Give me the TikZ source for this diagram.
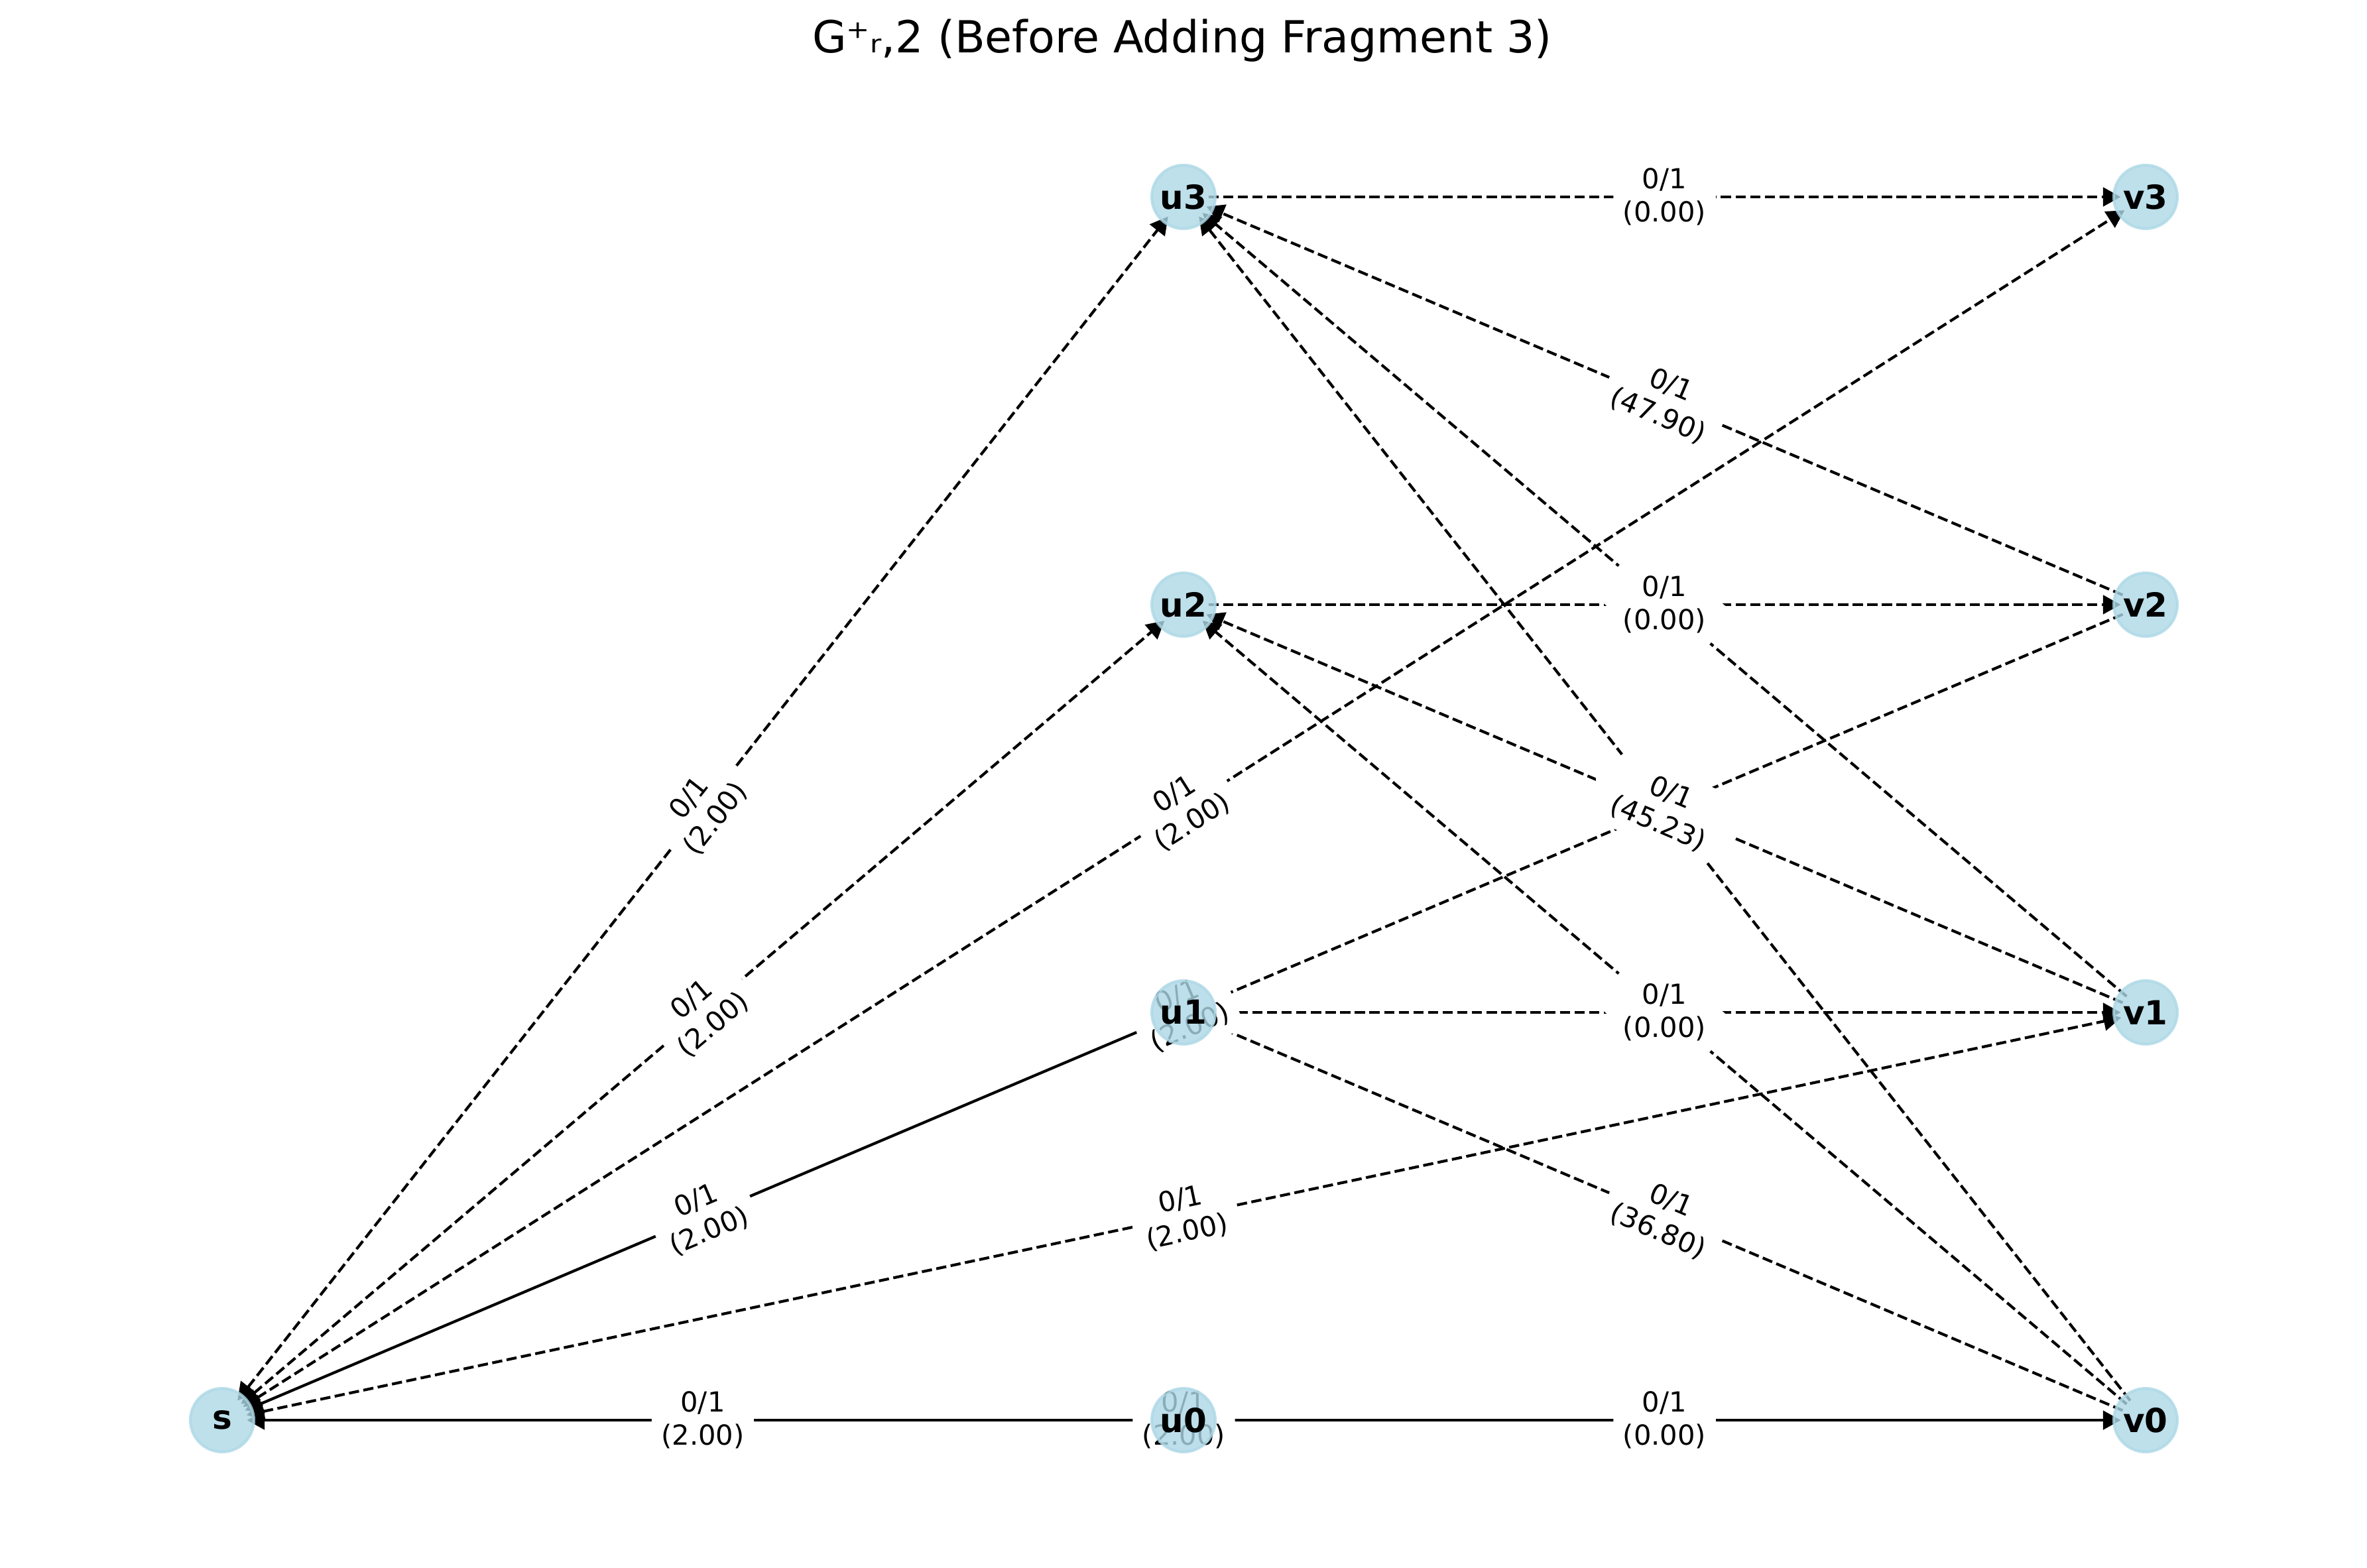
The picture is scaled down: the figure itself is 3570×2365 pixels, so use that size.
\documentclass[tikz,border=0pt]{standalone}
\usepackage{fontspec}
\setmainfont{DejaVu Sans}
\usetikzlibrary{arrows.meta}
\definecolor{nodeblue}{HTML}{ADD8E6}
\pgfdeclarelayer{edgelayer}
\pgfdeclarelayer{labellayer}
\pgfsetlayers{edgelayer,labellayer,main}
\tikzset{
  >={Triangle[length=6.4pt,width=6.8pt]},
  vertex/.style={circle, minimum size=23pt, inner sep=0pt, fill=nodeblue, fill opacity=0.8,
    draw=nodeblue, draw opacity=0.8, line width=1pt, text opacity=1,
    font=\fontsize{12}{14}\selectfont\bfseries},
  dedge/.style={line width=1pt, dash pattern=on 3.7pt off 1.6pt, shorten <=9pt, shorten >=9pt},
  sedge/.style={line width=1pt, shorten <=9pt, shorten >=9pt},
  lbl/.style={fill=white, draw=white, line width=1pt, rounded corners=3pt, inner sep=3pt,
    align=center, font=\fontsize{10}{12}\selectfont, sloped, midway},
}
\begin{document}
\begin{tikzpicture}[x=0.24pt,y=-0.24pt]
\useasboundingbox (0,0) rectangle (3570,2365);

% title
\node[anchor=base, font=\fontsize{16}{19}\selectfont] (title) at (1783,80) {G⁺ᵣ,2 (Before Adding Fragment 3)};

% nodes
\node[vertex] (s)  at (335,2142) {s};
\node[vertex] (u0) at (1785,2142) {u0};
\node[vertex] (u1) at (1785,1527) {u1};
\node[vertex] (u2) at (1785,912) {u2};
\node[vertex] (u3) at (1785,297) {u3};
\node[vertex] (v0) at (3236,2142) {v0};
\node[vertex] (v1) at (3236,1527) {v1};
\node[vertex] (v2) at (3236,912) {v2};
\node[vertex] (v3) at (3236,297) {v3};

\begin{pgfonlayer}{edgelayer}
% edges at s
\draw[dedge,<->] (s.center) -- (u3.center);
\draw[dedge,<->] (s.center) -- (u2.center);
\draw[dedge,<->] (s.center) -- (v3.center);
\draw[dedge,<->] (s.center) -- (v1.center);
% u -> v
\draw[dedge,->] (u3.center) -- (v3.center);
\draw[dedge,->] (u2.center) -- (v2.center);
\draw[dedge,->] (u1.center) -- (v1.center);
% v -> u
\draw[dedge,->] (v2.center) -- (u3.center);
\draw[dedge,->] (v1.center) -- (u3.center);
\draw[dedge,->] (v0.center) -- (u3.center);
\draw[dedge,->] (v1.center) -- (u2.center);
\draw[dedge,->] (v0.center) -- (u2.center);
\draw[dedge,->] (v2.center) -- (u1.center);
\draw[dedge,->] (v0.center) -- (u1.center);
% solid edges
\draw[sedge,->] (u1.center) -- (s.center);
\draw[sedge,->] (u0.center) -- (s.center);
\draw[sedge,->] (u0.center) -- (v0.center);
\end{pgfonlayer}

\begin{pgfonlayer}{labellayer}
% labels hidden under others
\path (u3.center) -- node[lbl] (h1) {\phantom{0/1}\\\phantom{(00.00)}} (v1.center);
\path (u2.center) -- node[lbl] (h2) {\phantom{0/1}\\\phantom{(00.00)}} (v0.center);
\path (u3.center) -- node[lbl] (h3) {\phantom{0/1}\\\phantom{(000.00)}} (v0.center);
\path (u1.center) -- node[lbl] (h4) {\phantom{0/1}\\\phantom{(0.00)}} (v2.center);
% labels lying under nodes u1 and u0
\path (s.center) -- node[lbl] (lsv2) {0/1\\(2.00)} (v2.center);
\path (s.center) -- node[lbl] (lsv0) {0/1\\(2.00)} (v0.center);
% labels of edges at s
\path (s.center) -- node[lbl] (lsu3) {0/1\\(2.00)} (u3.center);
\path (s.center) -- node[lbl] (lsu2) {0/1\\(2.00)} (u2.center);
\path (s.center) -- node[lbl] (lsv3) {0/1\\(2.00)} (v3.center);
\path (s.center) -- node[lbl] (lsu1) {0/1\\(2.00)} (u1.center);
\path (s.center) -- node[lbl] (lsv1) {0/1\\(2.00)} (v1.center);
\path (s.center) -- node[lbl] (lsu0) {0/1\\(2.00)} (u0.center);
% labels between u and v
\path (u3.center) -- node[lbl] (lu3v3) {0/1\\(0.00)} (v3.center);
\path (u2.center) -- node[lbl] (lu2v2) {0/1\\(0.00)} (v2.center);
\path (u1.center) -- node[lbl] (lu1v1) {0/1\\(0.00)} (v1.center);
\path (u0.center) -- node[lbl] (lu0v0) {0/1\\(0.00)} (v0.center);
\path (u3.center) -- node[lbl] (lu3v2) {0/1\\(47.90)} (v2.center);
\path (u2.center) -- node[lbl] (lu2v1) {0/1\\(45.23)} (v1.center);
\path (u1.center) -- node[lbl] (lu1v0) {0/1\\(36.80)} (v0.center);
\end{pgfonlayer}
\end{tikzpicture}
\end{document}
